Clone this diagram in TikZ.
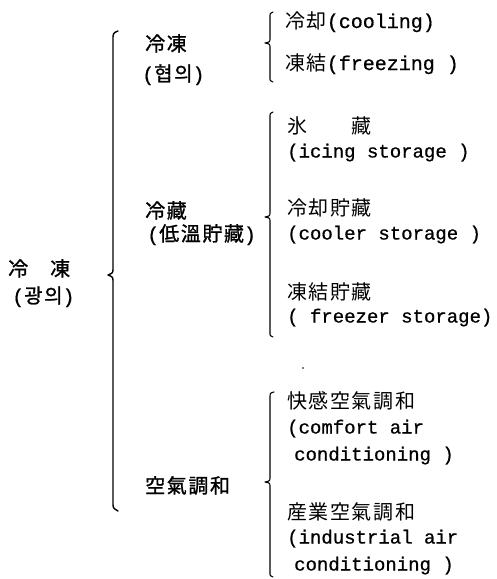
\documentclass[tikz,border=0pt]{standalone}
\usepackage{fontspec}
\setmainfont{Liberation Mono}
\newfontfamily\cjkf[LetterSpace=8]{Noto Sans CJK KR}
\newfontfamily\cjkbf[LetterSpace=8,FakeBold=1.2]{Noto Sans CJK KR}
\newfontfamily\monof[FakeBold=0.7]{Liberation Mono}
\begin{document}
\begin{tikzpicture}[x=1pt,y=-1pt,
  lbl/.style={anchor=base west,inner sep=0pt,font=\fontsize{20}{27}\selectfont\cjkf},
  lblb/.style={anchor=base west,inner sep=0pt,font=\fontsize{20}{27}\selectfont\cjkbf},
  eng/.style={anchor=base west,inner sep=0pt,font=\fontsize{19}{27}\selectfont\monof},
  brace/.style={line width=1.1pt,line cap=round,line join=round}]
\useasboundingbox (0,0) rectangle (497,579);
% level 1
\node[lblb] (l1a) at (8,276) {冷\hspace{22pt}凍};
\node[lblb] (l1b) at (12,303) {{\monof (}광의{\monof )}};
% level 2
\node[lblb] (l2a) at (145,51) {冷凍};
\node[lblb] (l2b) at (142,81) {{\monof (}협의{\monof )}};
\node[lblb] (l2c) at (145,218) {冷藏};
\node[lblb] (l2d) at (147,241) {{\monof (}低溫貯藏{\monof )}};
\node[lblb] (l2e) at (145,493) {空氣調和};
% level 3
\node[lbl] (a1) at (285,28) {冷却{\monof (cooling)}};
\node[lbl] (a2) at (285,70) {凍結{\monof (freezing )}};
\node[lbl] (b1) at (287,133) {氷\hspace{44pt}藏};
\node[eng] (b2) at (287,157.5) {(icing storage )};
\node[lbl] (b3) at (287,215) {冷却貯藏};
\node[eng] (b4) at (287,239.5) {(cooler storage )};
\node[lbl] (b5) at (287,299) {凍結貯藏};
\node[eng] (b6) at (287,322.5) {( freezer storage)};
\node[lbl] (c1) at (287,408) {快感空氣調和};
\node[eng] (c2) at (287,433.5) {(comfort air};
\node[eng] (c3) at (294,460.5) {conditioning )};
\node[lbl] (c4) at (287,519) {産業空氣調和};
\node[eng] (c5) at (287,543.5) {(industrial air};
\node[eng] (c6) at (294,570.5) {conditioning )};
% main brace
\draw[brace,line width=1.4pt] (118,31) .. controls (113,33) .. (113,40) -- (113,268)
  .. controls (113,273) .. (108,275) .. controls (113,277) .. (113,282) -- (113,503)
  .. controls (113,508) .. (118,511);
% brace A
\draw[brace] (273,12) .. controls (270,13) .. (270,18) -- (270,38)
  .. controls (270,42) .. (265,43) .. controls (270,44) .. (270,48) -- (270,77)
  .. controls (270,81) .. (273,82);
% brace B
\draw[brace] (273,112) .. controls (270,113) .. (270,118) -- (270,212)
  .. controls (270,216) .. (265,217) .. controls (270,218) .. (270,222) -- (270,332)
  .. controls (270,336) .. (273,337);
% brace C
\draw[brace] (274,392) .. controls (270,393) .. (270,398) -- (270,477)
  .. controls (270,481) .. (265,482) .. controls (270,483) .. (270,487) -- (270,572)
  .. controls (270,576) .. (273,577);
% speck
\fill (303,368) circle (0.9);
\end{tikzpicture}
\end{document}
